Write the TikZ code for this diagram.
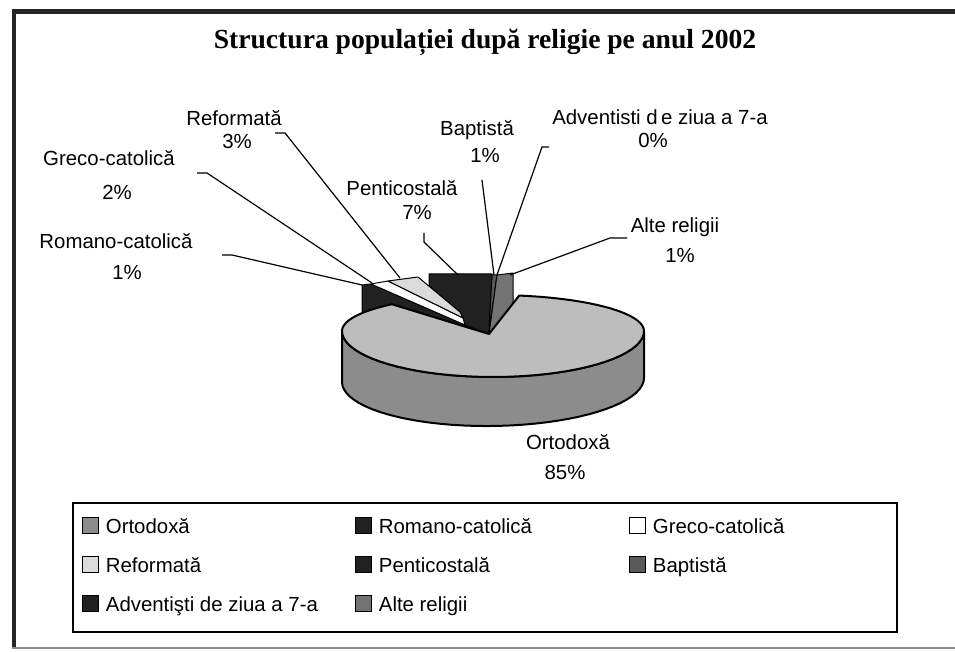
\documentclass[tikz,border=0pt]{standalone}
\usepackage{fontspec}
\setmainfont{Liberation Sans}
\newfontfamily\titlefont{Liberation Serif}
\usepackage{tikz}
\definecolor{ortotop}{gray}{0.74}
\definecolor{ortoside}{gray}{0.55}
\definecolor{slicedark}{gray}{0.13}
\definecolor{reflight}{gray}{0.86}
\definecolor{altgray}{gray}{0.45}
\definecolor{bapgray}{gray}{0.35}

\begin{document}
\begin{tikzpicture}[x=0.5pt, y=-0.5pt,
    lbl/.style={font=\fontsize{10.2}{12}\selectfont, inner sep=0pt, text height=7.6pt, text depth=0.4pt},
    leader/.style={line width=0.6pt},
    slice/.style={draw, line width=0.5pt, line join=round},
    key/.style={draw, line width=0.5pt, minimum size=8pt, inner sep=0pt},
    keytxt/.style={font=\fontsize{10.2}{12}\selectfont, anchor=west, inner sep=0pt, text height=7.6pt, text depth=0.4pt}]
    \useasboundingbox (0,0) rectangle (955,652);

    % frame
    \fill[black!85] (12,9) rectangle (955,14);
    \fill[black!85] (12,9) rectangle (16,648);
    \draw[black!45, line width=1pt] (12,648) -- (955,648);

    \node[font=\titlefont\bfseries\fontsize{13.8}{16}\selectfont, inner sep=0pt] (title) at (485,42) {Structura populației după religie pe anul 2002};

    % small slices at the back
    \filldraw[slice, fill=slicedark] (362,285) -- (371,284) -- (465,325) -- (489,334) -- (392,304) -- (362,313) -- cycle;
    \filldraw[slice, fill=slicedark] (429,274) -- (492,274) -- (489,334) -- (465,325) -- (460,312) -- (429,286) -- cycle;
    \filldraw[slice, fill=white] (371,284) -- (388,281) -- (463,318) -- (465,325) -- cycle;
    \filldraw[slice, fill=reflight] (388,281) -- (418,277) -- (460,312) -- (463,318) -- cycle;
    \filldraw[slice, fill=bapgray] (492,275) -- (497,275) -- (489,332) -- cycle;
    \filldraw[slice, fill=altgray] (497,275) -- (513,273) -- (513,305) -- (489,334) -- cycle;

    % Ortodoxa
    \filldraw[line width=1pt, fill=ortoside] (342,331) -- (342,382)
        -- plot[domain=180:0, samples=40, variable=\t] ({493+151*cos(\t)}, {380+46*sin(\t)-2*cos(\t)})
        -- (644,331)
        -- plot[domain=0:180, samples=40, variable=\t] ({493+151*cos(\t)}, {331+46*sin(\t)}) -- cycle;
    \filldraw[line width=1pt, fill=ortotop, line join=round] (489,334)
        -- plot[domain=-80:0, samples=20, variable=\t] ({493+151*cos(\t)}, {331+36*sin(\t)})
        -- plot[domain=0:180, samples=40, variable=\t] ({493+151*cos(\t)}, {331+46*sin(\t)})
        -- plot[domain=180:228, samples=12, variable=\t] ({493+151*cos(\t)}, {331+36*sin(\t)}) -- cycle;

    % labels
    \node[lbl] (rom) at (116,241) {Romano-catolică};
    \node[lbl] (romp) at (127,272) {1\%};
    \node[lbl] (gre) at (109,158) {Greco-catolică};
    \node[lbl] (grep) at (117,192) {2\%};
    \node[lbl] (ref) at (234,118) {Reformată};
    \node[lbl] (refp) at (237,141) {3\%};
    \node[lbl] (pen) at (402,188) {Penticostală};
    \node[lbl] (penp) at (417,212) {7\%};
    \node[lbl] (bap) at (477,128) {Baptistă};
    \node[lbl] (bapp) at (485,155) {1\%};
    \node[lbl] (adv) at (660,117) {Adventisti d\,e ziua a 7-a};
    \node[lbl] (advp) at (653,140) {0\%};
    \node[lbl] (alt) at (675,225) {Alte religii};
    \node[lbl] (altp) at (680,255) {1\%};
    \node[lbl] (ort) at (568,442) {Ortodoxă};
    \node[lbl] (ortp) at (565,472) {85\%};

    % leader lines
    \coordinate (romend) at (222,255);
    \coordinate (romtip) at (362,285);
    \coordinate (greend) at (197,173);
    \coordinate (gretip) at (372,283);
    \coordinate (refend) at (275,133);
    \coordinate (reftip) at (400,278);
    \coordinate (penend) at (424,233);
    \coordinate (pentip) at (458,275);
    \coordinate (bapend) at (482,180);
    \coordinate (baptip) at (494,275);
    \coordinate (advend) at (549,147);
    \coordinate (advtip) at (497,275);
    \coordinate (altend) at (627,238);
    \coordinate (alttip) at (510,275);
    \draw[leader] (romend) -- ++(10,0) -- (romtip);
    \draw[leader] (greend) -- ++(10,0) -- (gretip);
    \draw[leader] (refend) -- ++(10,0) -- (reftip);
    \draw[leader] (penend) -- ++(0,9) -- (pentip);
    \draw[leader] (bapend) -- (baptip);
    \draw[leader] (advend) -- ++(-7,0) -- (advtip);
    \draw[leader] (altend) -- ++(-17,0) -- (alttip);

    % legend
    \draw[line width=0.6pt] (73,503) rectangle (897,632);
    \node[key, fill=ortoside] (k1) at (90,526) {};
    \node[keytxt] (t1) at ([xshift=3.5pt]k1.east) {Ortodoxă};
    \node[key, fill=slicedark] (k2) at (363,526) {};
    \node[keytxt] (t2) at ([xshift=3.5pt]k2.east) {Romano-catolică};
    \node[key, fill=white] (k3) at (637,526) {};
    \node[keytxt] (t3) at ([xshift=3.5pt]k3.east) {Greco-catolică};
    \node[key, fill=reflight] (k4) at (90,565) {};
    \node[keytxt] (t4) at ([xshift=3.5pt]k4.east) {Reformată};
    \node[key, fill=slicedark] (k5) at (363,565) {};
    \node[keytxt] (t5) at ([xshift=3.5pt]k5.east) {Penticostală};
    \node[key, fill=bapgray] (k6) at (637,565) {};
    \node[keytxt] (t6) at ([xshift=3.5pt]k6.east) {Baptistă};
    \node[key, fill=slicedark] (k7) at (90,604) {};
    \node[keytxt] (t7) at ([xshift=3.5pt]k7.east) {Adventişti de ziua a 7-a};
    \node[key, fill=altgray] (k8) at (363,604) {};
    \node[keytxt] (t8) at ([xshift=3.5pt]k8.east) {Alte religii};
\end{tikzpicture}
\end{document}
